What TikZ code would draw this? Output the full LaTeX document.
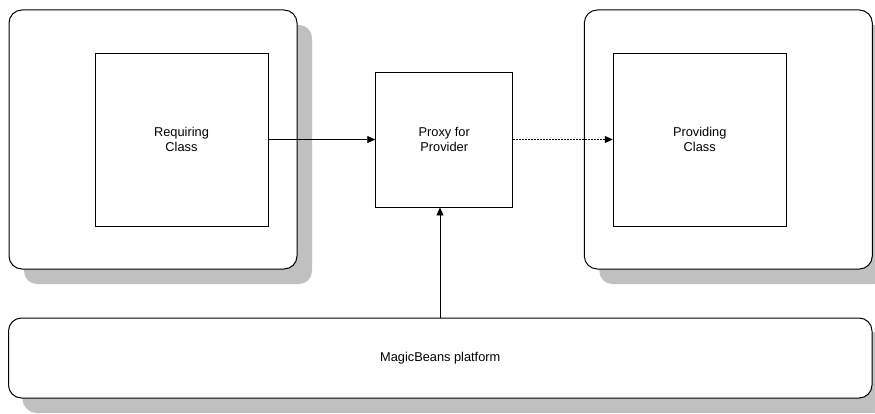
\documentclass[tikz,border=0pt]{standalone}
\usepackage{fontspec}
\setmainfont{Liberation Sans}
\usetikzlibrary{arrows.meta,shadows}
\definecolor{shadowgray}{HTML}{C0C0C0}
\tikzset{
  container/.style={draw=black, line width=1pt, rounded corners=13pt, fill=white, inner sep=0pt,
    general shadow={fill=shadowgray, shadow xshift=15pt, shadow yshift=-15pt}},
  classbox/.style={draw=black, line width=0.9pt, fill=white, inner sep=0pt, align=center,
    font=\fontsize{12.8}{15}\selectfont},
  arr/.style={line width=0.9pt, -{Triangle[length=8pt,width=7pt]}},
  dasharr/.style={arr, dash pattern=on 2pt off 1pt},
}
\begin{document}
\begin{tikzpicture}[x=1pt,y=-1pt]
\useasboundingbox (0,0) rectangle (875,414);
\node[container, minimum width=288pt, minimum height=259pt] (leftouter) at (153,139.5) {};
\node[container, minimum width=288pt, minimum height=259pt] (rightouter) at (728.3,139.5) {};
\node[container, minimum width=863.5pt, minimum height=80pt, general shadow={fill=shadowgray, shadow xshift=14pt, shadow yshift=-14pt},
  font=\fontsize{12.8}{15}\selectfont] (plat) at (440.25,358) {MagicBeans platform};
\node[classbox, minimum width=173pt, minimum height=173pt] (req) at (181.5,139.5) {Requiring\\Class};
\node[classbox, minimum width=173pt, minimum height=173pt] (prov) at (699.7,139.5) {Providing\\Class};
\node[classbox, minimum width=137pt, minimum height=135pt] (proxy) at (444.2,139.5) {Proxy for\\Provider};
\coordinate (vx) at (440,0);
\draw[arr] (req.east) -- (proxy.west);
\draw[dasharr] (proxy.east) -- (prov.west);
\draw[arr] (plat.north -| vx) -- (proxy.south -| vx);
\end{tikzpicture}
\end{document}
